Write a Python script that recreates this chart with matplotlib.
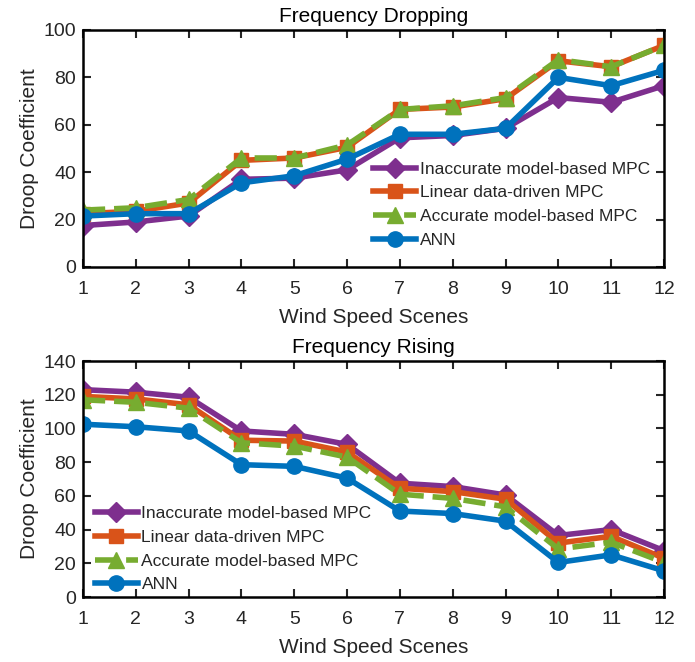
import matplotlib
matplotlib.use("Agg")
import matplotlib.pyplot as plt
from matplotlib.ticker import MultipleLocator

plt.rcParams['font.family'] = ['Liberation Sans', 'DejaVu Sans']

scenes = list(range(1, 13))
series_names = ["Inaccurate model-based MPC", "Linear data-driven MPC",
                "Accurate model-based MPC", "ANN"]

drop_inaccurate = [17.5, 19, 21.5, 37, 37.5, 41, 54.5, 55.5, 58.5, 71.5, 69.5, 76.5]
drop_linear = [22.5, 23.5, 27, 45, 46, 50.5, 66.5, 67.5, 71, 87, 84.5, 93.5]
drop_accurate = [24, 25, 28.5, 46, 46, 51.5, 66.5, 68, 71.5, 87.5, 84.5, 93.5]
drop_ann = [21.5, 22.5, 22.5, 35.5, 38.5, 45.5, 56, 56, 58.5, 80, 76.5, 83]

rise_inaccurate = [123, 121.5, 118.5, 98.5, 96.5, 90.5, 67.5, 65.5, 60.5, 36.5, 40, 27.5]
rise_linear = [119, 117.5, 114, 93, 92.5, 86, 64.5, 62.5, 58, 32, 36, 23]
rise_accurate = [117, 115.5, 112, 91.5, 89.5, 83, 61, 58.5, 53.5, 28.5, 32.5, 20.5]
rise_ann = [102.5, 101, 98.5, 78.5, 77.5, 70.5, 51, 49.5, 45, 20.5, 25, 15.5]

colors = ["#7E2F8E", "#D95319", "#77AC30", "#0072BD"]
markers = ["D", "s", "^", "o"]
styles = ["-", "-", "--", "-"]
msizes = [10, 9.5, 11.5, 11]

fig = plt.figure(figsize=(6.95, 6.62), dpi=100)
ax1 = fig.add_axes([83/695, 1-267/662, (664-83)/695, (267-30)/662])
ax2 = fig.add_axes([83/695, 1-597/662, (664-83)/695, (597-361)/662])

def draw(ax, data, ylim, step, title, anchor):
    for vals, name, c, m, ls, ms in zip(data, series_names, colors, markers, styles, msizes):
        kw = dict(dashes=(4, 1.6)) if ls == "--" else {}
        ax.plot(scenes, vals, color=c, marker=m, linestyle=ls, linewidth=4,
                markersize=ms, label=name, **kw)
    ax.set_xlim(1, 12)
    ax.set_ylim(*ylim)
    ax.set_xticks(scenes)
    ax.yaxis.set_major_locator(MultipleLocator(step))
    ax.tick_params(direction="in", length=6, width=1.5, top=True, right=True,
                   labelsize=14, colors="#262626")
    ax.tick_params(axis="x", pad=10)
    ax.tick_params(axis="y", pad=5)
    for s in ax.spines.values():
        s.set_linewidth(1.8)
        s.set_color("#000000")
    ax.set_xlabel("Wind Speed Scenes", fontsize=15, color="#262626", labelpad=7)
    ax.set_ylabel("Droop Coefficient", fontsize=15, color="#262626", labelpad=3)
    ax.set_title(title, fontsize=15, color="#000000", pad=6)
    leg = ax.legend(loc="upper left", bbox_to_anchor=anchor, frameon=False, fontsize=12.5,
                    handlelength=2.5, handletextpad=0.2, labelspacing=0.49,
                    borderaxespad=0, borderpad=0)
    for t in leg.get_texts():
        t.set_color("#262626")

draw(ax1, [drop_inaccurate, drop_linear, drop_accurate, drop_ann], (0, 100), 20,
     "Frequency Dropping", (0.499, 0.445))
draw(ax2, [rise_inaccurate, rise_linear, rise_accurate, rise_ann], (0, 140), 20,
     "Frequency Rising", (0.02, 0.385))

fig.savefig("out.png", dpi=100)
